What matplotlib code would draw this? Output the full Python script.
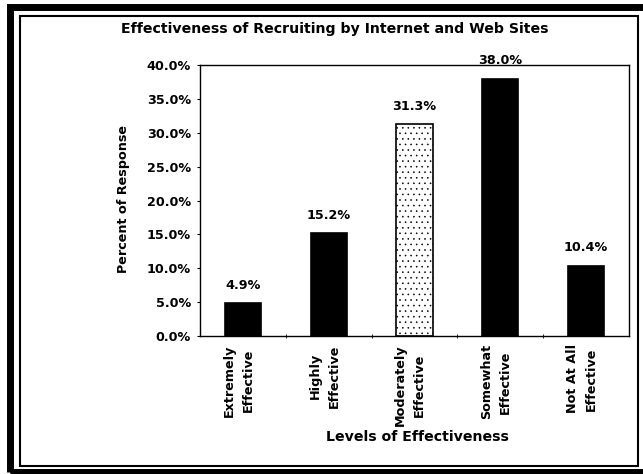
import matplotlib
matplotlib.use("Agg")
import matplotlib.pyplot as plt
from matplotlib.patches import Rectangle
import numpy as np

categories = ["Extremely\nEffective", "Highly\nEffective", "Moderately\nEffective",
              "Somewhat\nEffective", "Not At All\nEffective"]
values = [4.9, 15.2, 31.3, 38.0, 10.4]
value_labels = ["4.9%", "15.2%", "31.3%", "38.0%", "10.4%"]
yticks = [0, 5, 10, 15, 20, 25, 30, 35, 40]
ytick_labels = ["0.0%", "5.0%", "10.0%", "15.0%", "20.0%", "25.0%", "30.0%", "35.0%", "40.0%"]
title = "Effectiveness of Recruiting by Internet and Web Sites"
xlabel = "Levels of Effectiveness"
ylabel = "Percent of Response"

W, H = 643, 474
plt.rcParams['font.family'] = ['DejaVu Sans']
plt.rcParams['hatch.linewidth'] = 0.4
plt.rcParams['hatch.color'] = '#9a9a9a'
FS = 9.2

fig = plt.figure(figsize=(W / 100, H / 100), dpi=100)
fig.patch.set_facecolor('white')

def fx(px):
    return px / W

def fy(py):
    return 1 - py / H

# outer thick border and inner thin border
fig.add_artist(Rectangle((fx(9.5), fy(472)), fx(700 - 9.5), (472 - 6.5) / H,
                         transform=fig.transFigure, fill=False, lw=5.0, ec='black'))
fig.add_artist(Rectangle((fx(19.5), fy(465.5)), fx(637.5 - 19.5), (465.5 - 16) / H,
                         transform=fig.transFigure, fill=False, lw=1.5, ec='black'))

ax = fig.add_axes([fx(200), fy(336), fx(629 - 200), (336 - 65) / H])
x = np.arange(len(categories))
colors = ['black', 'black', 'white', 'black', 'black']
hatches = [None, None, '...', None, None]
bars = ax.bar(x, values, width=0.42, color=colors, edgecolor='black', linewidth=1.2)
for b, h in zip(bars, hatches):
    if h:
        b.set_hatch(h)

for xi, v, lab in zip(x, values, value_labels):
    ax.annotate(lab, (xi, v), xytext=(0, 8.0), textcoords='offset points',
                ha='center', va='bottom', fontsize=FS, fontweight='bold')

ax.set_xlim(-0.5, len(categories) - 0.5)
ax.set_ylim(0, 40)
ax.set_yticks(yticks)
ax.set_yticklabels(ytick_labels, fontsize=FS, fontweight='bold')
ax.tick_params(axis='y', length=2.5, width=0.8, pad=4)
ax.set_xticks(x - 0.05)
ax.set_xticklabels(categories, rotation=90, fontsize=FS, fontweight='bold',
                   ha='center', va='top', multialignment='center', linespacing=1.6)
ax.tick_params(axis='x', length=0, pad=6.0)
ax.set_xticks(np.arange(0.5, len(categories) - 0.5, 1), minor=True)
ax.tick_params(axis='x', which='minor', length=3, width=0.6, direction='inout')
for s in ax.spines.values():
    s.set_linewidth(1.0)
    s.set_color('black')

fig.text(fx(335), fy(29), title, ha='center', va='center', fontsize=10.2, fontweight='bold')
fig.text(fx(417), fy(437), xlabel, ha='center', va='center', fontsize=10.2, fontweight='bold')
fig.text(fx(123), fy(199), ylabel, ha='center', va='center', rotation=90,
         fontsize=FS, fontweight='bold')

fig.savefig("out.png", dpi=100)
